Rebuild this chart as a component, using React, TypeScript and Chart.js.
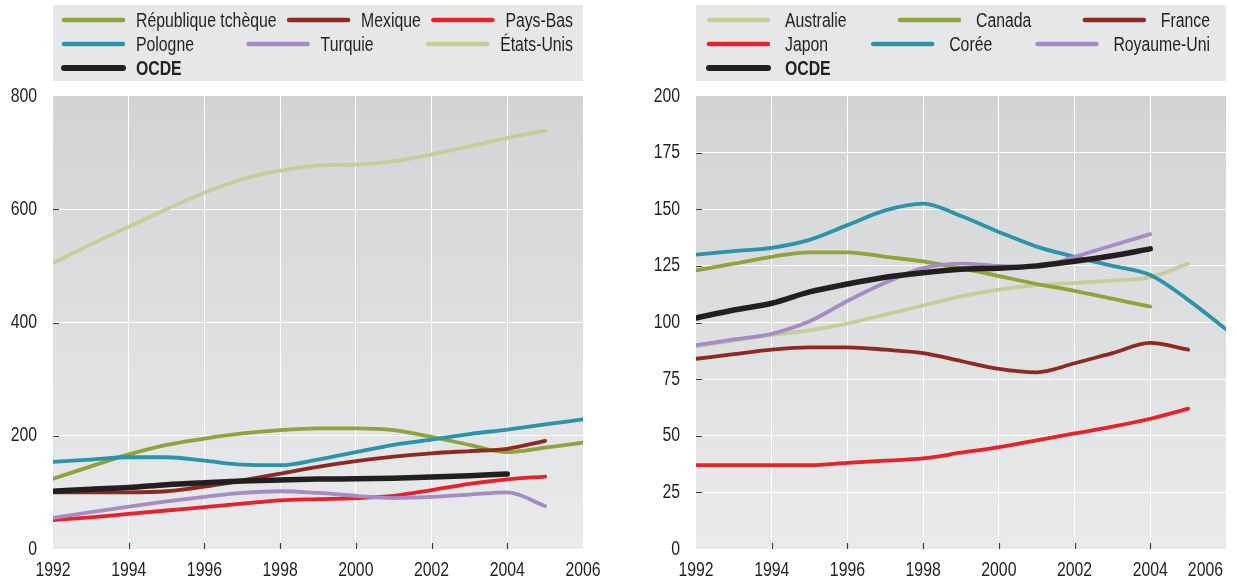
import React, { useEffect, useRef } from "react";
import { Chart, registerables } from "chart.js";

Chart.register(...registerables);

const FONT = "'Liberation Sans', Arial, sans-serif";
const FONT_SIZE = 20;
const SX = 0.79; // horizontal compression to imitate a condensed face

// ---------- data ----------
const years = [1992, 1993, 1994, 1995, 1996, 1997, 1998, 1999, 2000, 2001, 2002, 2003, 2004, 2005, 2006];
const xTickYears = [1992, 1994, 1996, 1998, 2000, 2002, 2004, 2006];

const leftYTicks = [0, 200, 400, 600, 800];
const rightYTicks = [0, 25, 50, 75, 100, 125, 150, 175, 200];

// left panel
const czechRepublic = [124, 146, 167, 184, 195, 204, 210, 213, 213, 210, 198, 184, 171, 179, 188];
const mexico = [100, 100, 100, 102, 110, 121, 133, 145, 155, 163, 169, 173, 177, 191];
const netherlands = [51, 56, 62, 68, 74, 80, 86, 88, 90, 94, 104, 115, 123, 128];
const poland = [154, 158, 162, 162, 156, 149, 148, 158, 171, 184, 193, 203, 211, 220, 229];
const turkey = [55, 65, 75, 84, 92, 99, 102, 99, 94, 90, 92, 96, 100, 76];
const unitedStates = [505, 538, 569, 600, 629, 653, 668, 677, 679, 685, 697, 711, 726, 739];
const oecd = [102, 105.5, 108.5, 113.5, 117, 120, 122, 123.5, 124, 125, 127, 129.5, 132.5];

// right panel
const australia = [89.5, 92, 94.5, 96.5, 99.5, 103.5, 107.5, 111.5, 114.5, 116.5, 117.5, 118.5, 120, 126];
const canada = [123, 126, 129, 131, 131, 129, 127, 124, 120.5, 117, 114, 110.5, 107];
const france = [84, 86, 88, 89, 89, 88, 86.5, 83, 79.5, 78, 82, 86.5, 91, 88];
const japan = [37, 37, 37, 37, 38, 39, 40, 42.5, 45, 48, 51, 54, 57.5, 62];
const korea = [130, 131.5, 133, 136.5, 143, 149.5, 152.5, 147, 140, 133.5, 129, 125, 121, 110, 97];
const unitedKingdom = [90, 92.5, 95, 100.5, 109.5, 117.5, 124, 126, 125, 124.5, 129, 134, 139];

// colours
const OLIVE = "#8fa33b";
const DARKRED = "#8c2a23";
const RED = "#e8212b";
const TEAL = "#2b94a8";
const PURPLE = "#a68cc5";
const KHAKI = "#c7cc98";
const BLACK = "#231f20";
const TEXT = "#231f20";

type Series = { label: string; values: number[]; color: string; bold?: boolean };

const leftSeries: Series[] = [
  { label: "République tchèque", values: czechRepublic, color: OLIVE },
  { label: "Mexique", values: mexico, color: DARKRED },
  { label: "Pays-Bas", values: netherlands, color: RED },
  { label: "Pologne", values: poland, color: TEAL },
  { label: "Turquie", values: turkey, color: PURPLE },
  { label: "États-Unis", values: unitedStates, color: KHAKI },
  { label: "OCDE", values: oecd, color: BLACK, bold: true },
];

const rightSeries: Series[] = [
  { label: "Australie", values: australia, color: KHAKI },
  { label: "Canada", values: canada, color: OLIVE },
  { label: "France", values: france, color: DARKRED },
  { label: "Japon", values: japan, color: RED },
  { label: "Corée", values: korea, color: TEAL },
  { label: "Royaume-Uni", values: unitedKingdom, color: PURPLE },
  { label: "OCDE", values: oecd, color: BLACK, bold: true },
];

function fontStr(bold?: boolean) {
  return `${bold ? "bold " : ""}${FONT_SIZE}px ${FONT}`;
}

function textWidth(ctx: CanvasRenderingContext2D, text: string, bold?: boolean) {
  ctx.font = fontStr(bold);
  return ctx.measureText(text).width * SX;
}

function drawText(
  ctx: CanvasRenderingContext2D,
  text: string,
  x: number,
  y: number,
  align: "left" | "right" | "center",
  bold?: boolean
) {
  const w = textWidth(ctx, text, bold);
  const left = align === "right" ? x - w : align === "center" ? x - w / 2 : x;
  ctx.save();
  ctx.translate(left, y);
  ctx.scale(SX, 1);
  ctx.font = fontStr(bold);
  ctx.fillStyle = TEXT;
  ctx.textAlign = "left";
  ctx.textBaseline = "middle";
  ctx.fillText(text, 0, 0);
  ctx.restore();
  return w;
}

// ---------- chart ----------
type PanelProps = {
  series: Series[];
  yTicks: number[];
  canvasWidth: number;
  axisWidth: number;
  padRight: number;
  legendPadLeft: number;
  legendPadRight: number;
  legendGap: number;
  left: number;
};

function Panel({ series, yTicks, canvasWidth, axisWidth, padRight, legendPadLeft, legendPadRight, legendGap, left }: PanelProps) {
  const ref = useRef<HTMLCanvasElement | null>(null);

  useEffect(() => {
    if (!ref.current) return;
    const yMin = yTicks[0];
    const yMax = yTicks[yTicks.length - 1];
    const xMin = xTickYears[0];
    const xMax = xTickYears[xTickYears.length - 1];

    const datasets = series
      .map((s) => ({
        label: s.label,
        data: s.values.map((v, i) => ({ x: years[i], y: v })),
        borderColor: s.color,
        backgroundColor: s.color,
        borderWidth: s.bold ? 5.5 : 3.8,
        pointRadius: 0,
        cubicInterpolationMode: "monotone" as const,
        borderCapStyle: "round" as const,
        borderJoinStyle: "round" as const,
        fill: false,
      }))
      .reverse(); // first dataset is drawn on top -> OCDE on top

    const panelPlugin = {
      id: "panelDecor",
      beforeDraw(chart: any) {
        const { ctx, chartArea } = chart;
        const g = ctx.createLinearGradient(0, chartArea.top, 0, chartArea.bottom);
        g.addColorStop(0, "#d2d3d5");
        g.addColorStop(1, "#e9eaeb");
        ctx.save();
        ctx.fillStyle = g;
        ctx.fillRect(chartArea.left, chartArea.top, chartArea.right - chartArea.left, chartArea.bottom - chartArea.top);
        ctx.restore();
      },
      beforeDatasetsDraw(chart: any) {
        const { ctx, chartArea } = chart;
        const xs = chart.scales.x;
        const ys = chart.scales.y;
        ctx.save();
        ctx.strokeStyle = "#3a3a3a";
        ctx.lineWidth = 1.2;
        ctx.beginPath();
        yTicks.forEach((v) => {
          if (v === yMin || v === yMax) return;
          const y = Math.round(ys.getPixelForValue(v)) + 0.5;
          ctx.moveTo(chartArea.left, y);
          ctx.lineTo(chartArea.left + 6, y);
        });
        xTickYears.forEach((v) => {
          if (v === xMin || v === xMax) return;
          const x = Math.round(xs.getPixelForValue(v)) + 0.5;
          ctx.moveTo(x, chartArea.bottom);
          ctx.lineTo(x, chartArea.bottom - 6);
        });
        ctx.stroke();
        ctx.restore();
      },
      afterDraw(chart: any) {
        const { ctx, chartArea } = chart;
        const xs = chart.scales.x;
        const ys = chart.scales.y;

        // x tick labels
        xTickYears.forEach((v) => {
          const label = String(v);
          const w = textWidth(ctx, label);
          let cx = xs.getPixelForValue(v);
          const maxCx = chart.width - 14 - w / 2;
          if (cx > maxCx) cx = maxCx;
          drawText(ctx, label, cx, 570, "center");
        });

        // y tick labels
        yTicks.forEach((v) => {
          drawText(ctx, String(v), chartArea.left - 16, ys.getPixelForValue(v), "right");
        });

        // legend box
        const boxL = chartArea.left;
        const boxR = chartArea.right;
        ctx.save();
        ctx.fillStyle = "#e6e7e8";
        ctx.fillRect(boxL, 5, boxR - boxL, 76);
        ctx.restore();

        const rows: Series[][] = [series.slice(0, 3), series.slice(3, 6), series.slice(6)];
        const rowY = [20, 44, 68];
        const swatch = 63;
        const startX = boxL + legendPadLeft;
        const endX = boxR - legendPadRight;
        rows.forEach((row, ri) => {
          const widths = row.map((s) => swatch + legendGap + textWidth(ctx, s.label, s.bold));
          const total = widths.reduce((a, b) => a + b, 0);
          const gap = row.length > 1 ? (endX - startX - total) / (row.length - 1) : 0;
          let x = startX;
          row.forEach((s, i) => {
            const y = rowY[ri];
            ctx.save();
            ctx.strokeStyle = s.color;
            ctx.lineWidth = s.bold ? 6 : 4.5;
            ctx.lineCap = "round";
            ctx.beginPath();
            ctx.moveTo(x + 2, y);
            ctx.lineTo(x + swatch - 2, y);
            ctx.stroke();
            ctx.restore();
            drawText(ctx, s.label, x + swatch + legendGap, y + 1, "left", s.bold);
            x += widths[i] + gap;
          });
        });
      },
    };

    const edgeTransparent = (min: number, max: number) => (c: any) =>
      c.tick && (c.tick.value === min || c.tick.value === max) ? "rgba(0,0,0,0)" : "#ffffff";

    const chart = new Chart(ref.current, {
      type: "line",
      data: { datasets },
      options: {
        responsive: false,
        animation: false,
        devicePixelRatio: 1,
        layout: { padding: { top: 96, right: padRight, bottom: 0, left: 0 } },
        plugins: { legend: { display: false }, tooltip: { enabled: false } },
        scales: {
          x: {
            type: "linear",
            min: xMin,
            max: xMax,
            afterFit: (s: any) => {
              s.height = 33;
            },
            afterBuildTicks: (s: any) => {
              s.ticks = xTickYears.map((v) => ({ value: v }));
            },
            ticks: { display: false },
            grid: { color: edgeTransparent(xMin, xMax), lineWidth: 1, drawTicks: false },
            border: { display: false },
          },
          y: {
            type: "linear",
            min: yMin,
            max: yMax,
            afterFit: (s: any) => {
              s.width = axisWidth;
            },
            afterBuildTicks: (s: any) => {
              s.ticks = yTicks.map((v) => ({ value: v }));
            },
            ticks: { display: false },
            grid: { color: edgeTransparent(yMin, yMax), lineWidth: 1, drawTicks: false },
            border: { display: false },
          },
        },
      },
      plugins: [panelPlugin],
    } as any);

    return () => chart.destroy();
  }, []);

  return (
    <canvas
      ref={ref}
      width={canvasWidth}
      height={582}
      style={{ position: "absolute", left, top: 0, width: canvasWidth, height: 582 }}
    />
  );
}

export default function App() {
  return (
    <div style={{ position: "fixed", left: 0, top: 0, width: 1237, height: 582, background: "#ffffff", overflow: "hidden" }}>
      <Panel
        series={leftSeries}
        yTicks={leftYTicks}
        canvasWidth={618}
        axisWidth={53}
        padRight={35}
        legendPadLeft={9}
        legendPadRight={10}
        legendGap={11}
        left={0}
      />
      <Panel
        series={rightSeries}
        yTicks={rightYTicks}
        canvasWidth={619}
        axisWidth={78}
        padRight={11}
        legendPadLeft={11}
        legendPadRight={16}
        legendGap={15}
        left={618}
      />
    </div>
  );
}
